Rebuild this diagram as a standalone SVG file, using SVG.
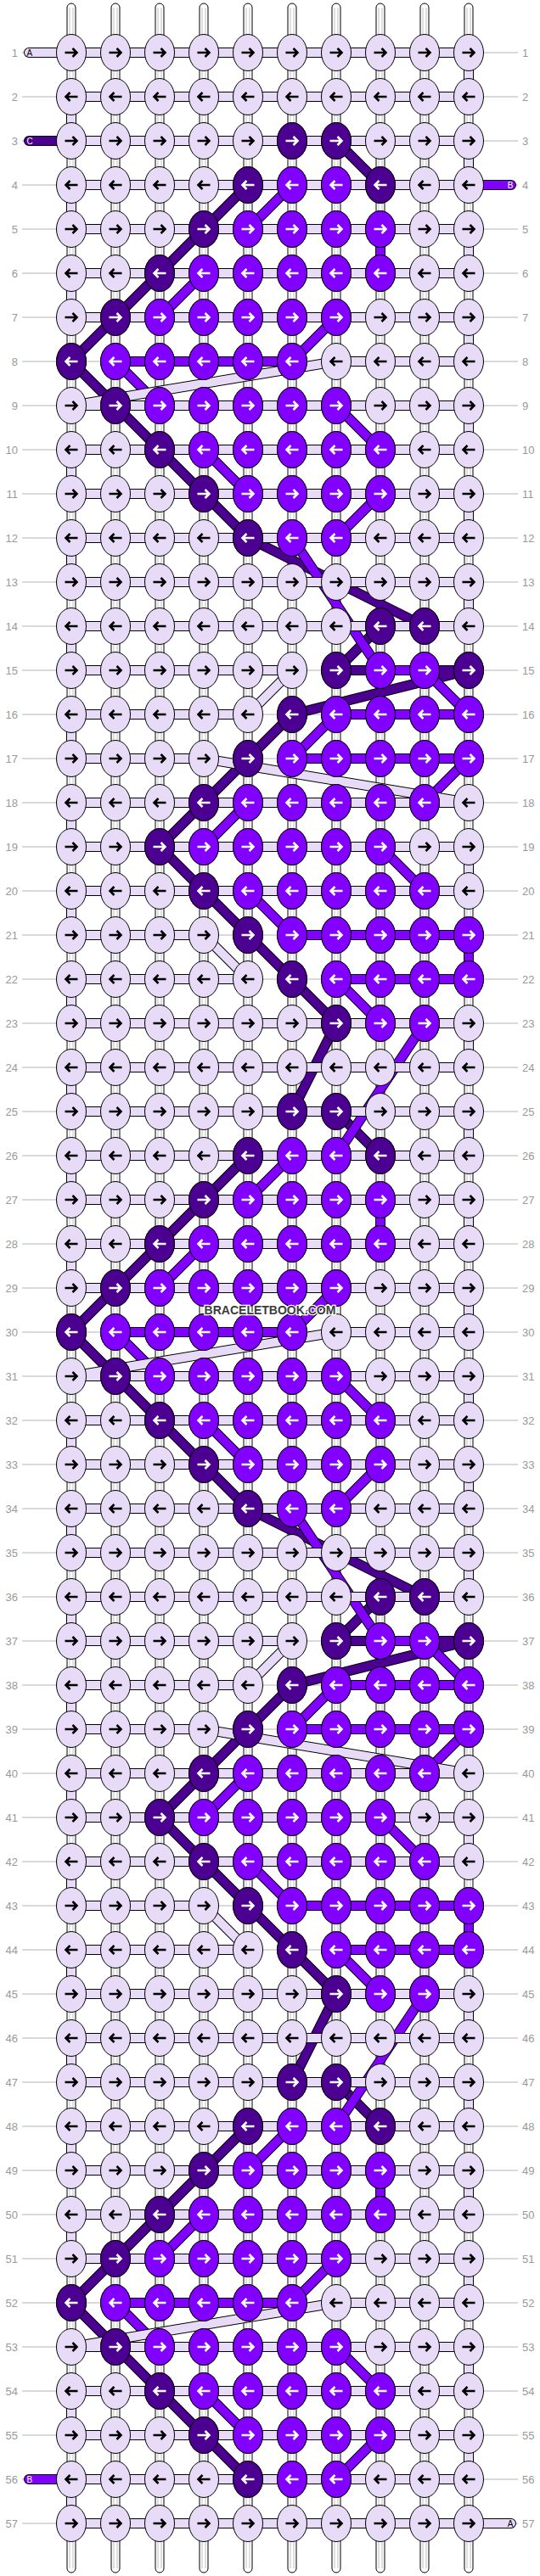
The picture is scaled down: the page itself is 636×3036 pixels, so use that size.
<svg xmlns="http://www.w3.org/2000/svg" width="636" height="3036" viewBox="0 0 636 3036">
<style>
.bs{fill:#fff;stroke:#000;stroke-width:1}
.bi{stroke:#b0b0b0;stroke-width:0.8}
.gl{fill:none;stroke:#b4b4b4;stroke-width:1}
.lb{font-family:"Liberation Sans",Arial,sans-serif;font-size:13px;fill:#999}
.ll{text-anchor:end}
.so{fill:none;stroke:#000;stroke-width:12px;stroke-linejoin:round;stroke-linecap:round;vector-effect:non-scaling-stroke}
.sc{fill:none;stroke-width:10px;stroke-linejoin:round;stroke-linecap:round;vector-effect:non-scaling-stroke}
.kL{fill:#E8DBF8;stroke:#000;stroke-width:1}
.kD{fill:#4B0091;stroke:#000;stroke-width:1}
.kV{fill:#8200FF;stroke:#000;stroke-width:1}
.ab{fill:none;stroke:#000;stroke-width:2.6}
.aw{fill:none;stroke:#fff;stroke-width:2.6}
.st{font-family:"Liberation Sans",Arial,sans-serif;font-size:10px}
</style>
<defs>
<path id="ar" d="M-7.5,0H6M1.5,-5L6.5,0L1.5,5"/>
<path id="al" d="M7.5,0H-6M-1.5,-5L-6.5,0L-1.5,5"/>
<g id="LR"><ellipse class="kL" rx="17.5" ry="21.5"/><use href="#ar" class="ab"/></g>
<g id="LL"><ellipse class="kL" rx="17.5" ry="21.5"/><use href="#al" class="ab"/></g>
<g id="DR"><ellipse class="kD" rx="17.5" ry="21.5"/><use href="#ar" class="aw"/></g>
<g id="DL"><ellipse class="kD" rx="17.5" ry="21.5"/><use href="#al" class="aw"/></g>
<g id="VR"><ellipse class="kV" rx="17.5" ry="21.5"/><use href="#ar" class="aw"/></g>
<g id="VL"><ellipse class="kV" rx="17.5" ry="21.5"/><use href="#al" class="aw"/></g>
<g id="rowR"><use href="#LR" x="84"/><use href="#LR" x="136"/><use href="#LR" x="188"/><use href="#LR" x="240"/><use href="#LR" x="292"/><use href="#LR" x="344"/><use href="#LR" x="396"/><use href="#LR" x="448"/><use href="#LR" x="500"/><use href="#LR" x="552"/></g>
<g id="rowL"><use href="#LL" x="84"/><use href="#LL" x="136"/><use href="#LL" x="188"/><use href="#LL" x="240"/><use href="#LL" x="292"/><use href="#LL" x="344"/><use href="#LL" x="396"/><use href="#LL" x="448"/><use href="#LL" x="500"/><use href="#LL" x="552"/></g>
<g id="o3"><use href="#DR" x="344"/><use href="#DR" x="396"/></g>
<g id="o4"><use href="#DL" x="292"/><use href="#VL" x="344"/><use href="#VL" x="396"/><use href="#DL" x="448"/></g>
<g id="o5"><use href="#DR" x="240"/><use href="#VR" x="292"/><use href="#VR" x="344"/><use href="#VR" x="396"/><use href="#VR" x="448"/></g>
<g id="o6"><use href="#DL" x="188"/><use href="#VL" x="240"/><use href="#VL" x="292"/><use href="#VL" x="344"/><use href="#VL" x="396"/><use href="#VL" x="448"/></g>
<g id="o7"><use href="#DR" x="136"/><use href="#VR" x="188"/><use href="#VR" x="240"/><use href="#VR" x="292"/><use href="#VR" x="344"/><use href="#VR" x="396"/></g>
<g id="o8"><use href="#DL" x="84"/><use href="#VL" x="136"/><use href="#VL" x="188"/><use href="#VL" x="240"/><use href="#VL" x="292"/><use href="#VL" x="344"/></g>
<g id="o12"><use href="#DL" x="292"/><use href="#VL" x="344"/><use href="#VL" x="396"/></g>
<g id="o14"><use href="#DL" x="448"/><use href="#DL" x="500"/></g>
<g id="o15"><use href="#DR" x="396"/><use href="#VR" x="448"/><use href="#VR" x="500"/><use href="#DR" x="552"/></g>
<g id="o16"><use href="#DL" x="344"/><use href="#VL" x="396"/><use href="#VL" x="448"/><use href="#VL" x="500"/><use href="#VL" x="552"/></g>
<g id="o17"><use href="#DR" x="292"/><use href="#VR" x="344"/><use href="#VR" x="396"/><use href="#VR" x="448"/><use href="#VR" x="500"/><use href="#VR" x="552"/></g>
<g id="o18"><use href="#DL" x="240"/><use href="#VL" x="292"/><use href="#VL" x="344"/><use href="#VL" x="396"/><use href="#VL" x="448"/><use href="#VL" x="500"/></g>
<g id="o19"><use href="#DR" x="188"/><use href="#VR" x="240"/><use href="#VR" x="292"/><use href="#VR" x="344"/><use href="#VR" x="396"/><use href="#VR" x="448"/></g>
<g id="o23"><use href="#DR" x="396"/><use href="#VR" x="448"/><use href="#VR" x="500"/></g>
</defs>
<rect width="636" height="3036" fill="#fff"/>
<g id="row-guides">
<path class="gl" d="M26,62H610M26,114H610M26,166H610M26,218H610M26,270H610M26,322H610M26,374H610M26,426H610M26,478H610M26,530H610M26,582H610M26,634H610M26,686H610M26,738H610M26,790H610M26,842H610M26,894H610M26,946H610M26,998H610M26,1050H610M26,1102H610M26,1154H610M26,1206H610M26,1258H610M26,1310H610M26,1362H610M26,1414H610M26,1466H610M26,1518H610M26,1570H610M26,1622H610M26,1674H610M26,1726H610M26,1778H610M26,1830H610M26,1882H610M26,1934H610M26,1986H610M26,2038H610M26,2090H610M26,2142H610M26,2194H610M26,2246H610M26,2298H610M26,2350H610M26,2402H610M26,2454H610M26,2506H610M26,2558H610M26,2610H610M26,2662H610M26,2714H610M26,2766H610M26,2818H610M26,2870H610M26,2922H610M26,2974H610"/>
</g>
<g id="base-strings">
<rect class="bs" x="79" y="4" width="10" height="3028" rx="5"/>
<rect class="bs" x="131" y="4" width="10" height="3028" rx="5"/>
<rect class="bs" x="183" y="4" width="10" height="3028" rx="5"/>
<rect class="bs" x="235" y="4" width="10" height="3028" rx="5"/>
<rect class="bs" x="287" y="4" width="10" height="3028" rx="5"/>
<rect class="bs" x="339" y="4" width="10" height="3028" rx="5"/>
<rect class="bs" x="391" y="4" width="10" height="3028" rx="5"/>
<rect class="bs" x="443" y="4" width="10" height="3028" rx="5"/>
<rect class="bs" x="495" y="4" width="10" height="3028" rx="5"/>
<rect class="bs" x="547" y="4" width="10" height="3028" rx="5"/>
<path class="bi" d="M82,9V3027M86,9V3027M134,9V3027M138,9V3027M186,9V3027M190,9V3027M238,9V3027M242,9V3027M290,9V3027M294,9V3027M342,9V3027M346,9V3027M394,9V3027M398,9V3027M446,9V3027M450,9V3027M498,9V3027M502,9V3027M550,9V3027M554,9V3027"/>
</g>
<g id="connectors" transform="translate(32,10) scale(52)">
<g id="string-C">
<polyline class="so" points="0.0385,3 7,3 8,4 5,4 4,5 3,6 2,7 1,8 2,9 3,10 4,11 5,12 9,14 8,14 7,15 10,15 6,16 5,17 4,18 3,19 4,20 5,21 6,22 7,23 6,25 7,25 8,26 5,26 4,27 3,28 2,29 1,30 2,31 3,32 4,33 5,34 9,36 8,36 7,37 10,37 6,38 5,39 4,40 3,41 4,42 5,43 6,44 7,45 6,47 7,47 8,48 5,48 4,49 3,50 2,51 1,52 2,53 3,54 4,55 5,56"/>
<polyline class="sc" stroke="#4B0091" points="0.0385,3 7,3 8,4 5,4 4,5 3,6 2,7 1,8 2,9 3,10 4,11 5,12 9,14 8,14 7,15 10,15 6,16 5,17 4,18 3,19 4,20 5,21 6,22 7,23 6,25 7,25 8,26 5,26 4,27 3,28 2,29 1,30 2,31 3,32 4,33 5,34 9,36 8,36 7,37 10,37 6,38 5,39 4,40 3,41 4,42 5,43 6,44 7,45 6,47 7,47 8,48 5,48 4,49 3,50 2,51 1,52 2,53 3,54 4,55 5,56"/>
</g>
<g id="string-B">
<polyline class="so" points="10.9615,4 7,4 6,4 5,5 8,5 8,6 4,6 3,7 7,7 6,8 2,8 3,9 7,9 8,10 4,10 5,11 8,11 7,12 6,12 8,15 9,15 10,16 7,16 6,17 10,17 9,18 5,18 4,19 8,19 9,20 5,20 6,21 10,21 10,22 7,22 8,23 9,23 7,26 6,26 5,27 8,27 8,28 4,28 3,29 7,29 6,30 2,30 3,31 7,31 8,32 4,32 5,33 8,33 7,34 6,34 8,37 9,37 10,38 7,38 6,39 10,39 9,40 5,40 4,41 8,41 9,42 5,42 6,43 10,43 10,44 7,44 8,45 9,45 7,48 6,48 5,49 8,49 8,50 4,50 3,51 7,51 6,52 2,52 3,53 7,53 8,54 4,54 5,55 8,55 7,56 6,56 0.0385,56"/>
<polyline class="sc" stroke="#8200FF" points="10.9615,4 7,4 6,4 5,5 8,5 8,6 4,6 3,7 7,7 6,8 2,8 3,9 7,9 8,10 4,10 5,11 8,11 7,12 6,12 8,15 9,15 10,16 7,16 6,17 10,17 9,18 5,18 4,19 8,19 9,20 5,20 6,21 10,21 10,22 7,22 8,23 9,23 7,26 6,26 5,27 8,27 8,28 4,28 3,29 7,29 6,30 2,30 3,31 7,31 8,32 4,32 5,33 8,33 7,34 6,34 8,37 9,37 10,38 7,38 6,39 10,39 9,40 5,40 4,41 8,41 9,42 5,42 6,43 10,43 10,44 7,44 8,45 9,45 7,48 6,48 5,49 8,49 8,50 4,50 3,51 7,51 6,52 2,52 3,53 7,53 8,54 4,54 5,55 8,55 7,56 6,56 0.0385,56"/>
</g>
<g id="string-A">
<polyline class="so" points="0.0385,1 10,1 10,2 1,2 1,3 10,3 10,4 1,4 1,5 10,5 10,6 1,6 1,7 10,7 10,8 7,8 1,9 10,9 10,10 1,10 1,11 10,11 10,12 1,12 1,13 10,13 10,14 1,14 1,15 6,15 5,16 1,16 1,17 4,17 10,18 1,18 1,19 10,19 10,20 1,20 1,21 4,21 5,22 1,22 1,23 10,23 10,24 1,24 1,25 10,25 10,26 1,26 1,27 10,27 10,28 1,28 1,29 10,29 10,30 7,30 1,31 10,31 10,32 1,32 1,33 10,33 10,34 1,34 1,35 10,35 10,36 1,36 1,37 6,37 5,38 1,38 1,39 4,39 10,40 1,40 1,41 10,41 10,42 1,42 1,43 4,43 5,44 1,44 1,45 10,45 10,46 1,46 1,47 10,47 10,48 1,48 1,49 10,49 10,50 1,50 1,51 10,51 10,52 7,52 1,53 10,53 10,54 1,54 1,55 10,55 10,56 1,56 1,57 10.9615,57"/>
<polyline class="sc" stroke="#E8DBF8" points="0.0385,1 10,1 10,2 1,2 1,3 10,3 10,4 1,4 1,5 10,5 10,6 1,6 1,7 10,7 10,8 7,8 1,9 10,9 10,10 1,10 1,11 10,11 10,12 1,12 1,13 10,13 10,14 1,14 1,15 6,15 5,16 1,16 1,17 4,17 10,18 1,18 1,19 10,19 10,20 1,20 1,21 4,21 5,22 1,22 1,23 10,23 10,24 1,24 1,25 10,25 10,26 1,26 1,27 10,27 10,28 1,28 1,29 10,29 10,30 7,30 1,31 10,31 10,32 1,32 1,33 10,33 10,34 1,34 1,35 10,35 10,36 1,36 1,37 6,37 5,38 1,38 1,39 4,39 10,40 1,40 1,41 10,41 10,42 1,42 1,43 4,43 5,44 1,44 1,45 10,45 10,46 1,46 1,47 10,47 10,48 1,48 1,49 10,49 10,50 1,50 1,51 10,51 10,52 7,52 1,53 10,53 10,54 1,54 1,55 10,55 10,56 1,56 1,57 10.9615,57"/>
</g>
</g>
<g id="string-labels" class="st">
<text x="31.5" y="65.5" fill="#000">A</text>
<text x="31.5" y="169.5" fill="#fff">C</text>
<text x="604.5" y="221.5" fill="#fff" text-anchor="end">B</text>
<text x="31.5" y="2925.5" fill="#fff">B</text>
<text x="604.5" y="2977.5" fill="#000" text-anchor="end">A</text>
</g>
<g id="knots">
<g id="row-1" transform="translate(0,62)"><use href="#rowR"/></g>
<g id="row-2" transform="translate(0,114)"><use href="#rowL"/></g>
<g id="row-3" transform="translate(0,166)"><use href="#rowR"/><use href="#o3"/></g>
<g id="row-4" transform="translate(0,218)"><use href="#rowL"/><use href="#o4"/></g>
<g id="row-5" transform="translate(0,270)"><use href="#rowR"/><use href="#o5"/></g>
<g id="row-6" transform="translate(0,322)"><use href="#rowL"/><use href="#o6"/></g>
<g id="row-7" transform="translate(0,374)"><use href="#rowR"/><use href="#o7"/></g>
<g id="row-8" transform="translate(0,426)"><use href="#rowL"/><use href="#o8"/></g>
<g id="row-9" transform="translate(0,478)"><use href="#rowR"/><use href="#o7"/></g>
<g id="row-10" transform="translate(0,530)"><use href="#rowL"/><use href="#o6"/></g>
<g id="row-11" transform="translate(0,582)"><use href="#rowR"/><use href="#o5"/></g>
<g id="row-12" transform="translate(0,634)"><use href="#rowL"/><use href="#o12"/></g>
<g id="row-13" transform="translate(0,686)"><use href="#rowR"/></g>
<g id="row-14" transform="translate(0,738)"><use href="#rowL"/><use href="#o14"/></g>
<g id="row-15" transform="translate(0,790)"><use href="#rowR"/><use href="#o15"/></g>
<g id="row-16" transform="translate(0,842)"><use href="#rowL"/><use href="#o16"/></g>
<g id="row-17" transform="translate(0,894)"><use href="#rowR"/><use href="#o17"/></g>
<g id="row-18" transform="translate(0,946)"><use href="#rowL"/><use href="#o18"/></g>
<g id="row-19" transform="translate(0,998)"><use href="#rowR"/><use href="#o19"/></g>
<g id="row-20" transform="translate(0,1050)"><use href="#rowL"/><use href="#o18"/></g>
<g id="row-21" transform="translate(0,1102)"><use href="#rowR"/><use href="#o17"/></g>
<g id="row-22" transform="translate(0,1154)"><use href="#rowL"/><use href="#o16"/></g>
<g id="row-23" transform="translate(0,1206)"><use href="#rowR"/><use href="#o23"/></g>
<g id="row-24" transform="translate(0,1258)"><use href="#rowL"/></g>
<g id="row-25" transform="translate(0,1310)"><use href="#rowR"/><use href="#o3"/></g>
<g id="row-26" transform="translate(0,1362)"><use href="#rowL"/><use href="#o4"/></g>
<g id="row-27" transform="translate(0,1414)"><use href="#rowR"/><use href="#o5"/></g>
<g id="row-28" transform="translate(0,1466)"><use href="#rowL"/><use href="#o6"/></g>
<g id="row-29" transform="translate(0,1518)"><use href="#rowR"/><use href="#o7"/></g>
<g id="row-30" transform="translate(0,1570)"><use href="#rowL"/><use href="#o8"/></g>
<g id="row-31" transform="translate(0,1622)"><use href="#rowR"/><use href="#o7"/></g>
<g id="row-32" transform="translate(0,1674)"><use href="#rowL"/><use href="#o6"/></g>
<g id="row-33" transform="translate(0,1726)"><use href="#rowR"/><use href="#o5"/></g>
<g id="row-34" transform="translate(0,1778)"><use href="#rowL"/><use href="#o12"/></g>
<g id="row-35" transform="translate(0,1830)"><use href="#rowR"/></g>
<g id="row-36" transform="translate(0,1882)"><use href="#rowL"/><use href="#o14"/></g>
<g id="row-37" transform="translate(0,1934)"><use href="#rowR"/><use href="#o15"/></g>
<g id="row-38" transform="translate(0,1986)"><use href="#rowL"/><use href="#o16"/></g>
<g id="row-39" transform="translate(0,2038)"><use href="#rowR"/><use href="#o17"/></g>
<g id="row-40" transform="translate(0,2090)"><use href="#rowL"/><use href="#o18"/></g>
<g id="row-41" transform="translate(0,2142)"><use href="#rowR"/><use href="#o19"/></g>
<g id="row-42" transform="translate(0,2194)"><use href="#rowL"/><use href="#o18"/></g>
<g id="row-43" transform="translate(0,2246)"><use href="#rowR"/><use href="#o17"/></g>
<g id="row-44" transform="translate(0,2298)"><use href="#rowL"/><use href="#o16"/></g>
<g id="row-45" transform="translate(0,2350)"><use href="#rowR"/><use href="#o23"/></g>
<g id="row-46" transform="translate(0,2402)"><use href="#rowL"/></g>
<g id="row-47" transform="translate(0,2454)"><use href="#rowR"/><use href="#o3"/></g>
<g id="row-48" transform="translate(0,2506)"><use href="#rowL"/><use href="#o4"/></g>
<g id="row-49" transform="translate(0,2558)"><use href="#rowR"/><use href="#o5"/></g>
<g id="row-50" transform="translate(0,2610)"><use href="#rowL"/><use href="#o6"/></g>
<g id="row-51" transform="translate(0,2662)"><use href="#rowR"/><use href="#o7"/></g>
<g id="row-52" transform="translate(0,2714)"><use href="#rowL"/><use href="#o8"/></g>
<g id="row-53" transform="translate(0,2766)"><use href="#rowR"/><use href="#o7"/></g>
<g id="row-54" transform="translate(0,2818)"><use href="#rowL"/><use href="#o6"/></g>
<g id="row-55" transform="translate(0,2870)"><use href="#rowR"/><use href="#o5"/></g>
<g id="row-56" transform="translate(0,2922)"><use href="#rowL"/><use href="#o12"/></g>
<g id="row-57" transform="translate(0,2974)"><use href="#rowR"/></g>
</g>
<g id="row-numbers" class="lb">
<text class="ll" x="21" y="67">1</text><text x="615" y="67">1</text>
<text class="ll" x="21" y="119">2</text><text x="615" y="119">2</text>
<text class="ll" x="21" y="171">3</text><text x="615" y="171">3</text>
<text class="ll" x="21" y="223">4</text><text x="615" y="223">4</text>
<text class="ll" x="21" y="275">5</text><text x="615" y="275">5</text>
<text class="ll" x="21" y="327">6</text><text x="615" y="327">6</text>
<text class="ll" x="21" y="379">7</text><text x="615" y="379">7</text>
<text class="ll" x="21" y="431">8</text><text x="615" y="431">8</text>
<text class="ll" x="21" y="483">9</text><text x="615" y="483">9</text>
<text class="ll" x="21" y="535">10</text><text x="615" y="535">10</text>
<text class="ll" x="21" y="587">11</text><text x="615" y="587">11</text>
<text class="ll" x="21" y="639">12</text><text x="615" y="639">12</text>
<text class="ll" x="21" y="691">13</text><text x="615" y="691">13</text>
<text class="ll" x="21" y="743">14</text><text x="615" y="743">14</text>
<text class="ll" x="21" y="795">15</text><text x="615" y="795">15</text>
<text class="ll" x="21" y="847">16</text><text x="615" y="847">16</text>
<text class="ll" x="21" y="899">17</text><text x="615" y="899">17</text>
<text class="ll" x="21" y="951">18</text><text x="615" y="951">18</text>
<text class="ll" x="21" y="1003">19</text><text x="615" y="1003">19</text>
<text class="ll" x="21" y="1055">20</text><text x="615" y="1055">20</text>
<text class="ll" x="21" y="1107">21</text><text x="615" y="1107">21</text>
<text class="ll" x="21" y="1159">22</text><text x="615" y="1159">22</text>
<text class="ll" x="21" y="1211">23</text><text x="615" y="1211">23</text>
<text class="ll" x="21" y="1263">24</text><text x="615" y="1263">24</text>
<text class="ll" x="21" y="1315">25</text><text x="615" y="1315">25</text>
<text class="ll" x="21" y="1367">26</text><text x="615" y="1367">26</text>
<text class="ll" x="21" y="1419">27</text><text x="615" y="1419">27</text>
<text class="ll" x="21" y="1471">28</text><text x="615" y="1471">28</text>
<text class="ll" x="21" y="1523">29</text><text x="615" y="1523">29</text>
<text class="ll" x="21" y="1575">30</text><text x="615" y="1575">30</text>
<text class="ll" x="21" y="1627">31</text><text x="615" y="1627">31</text>
<text class="ll" x="21" y="1679">32</text><text x="615" y="1679">32</text>
<text class="ll" x="21" y="1731">33</text><text x="615" y="1731">33</text>
<text class="ll" x="21" y="1783">34</text><text x="615" y="1783">34</text>
<text class="ll" x="21" y="1835">35</text><text x="615" y="1835">35</text>
<text class="ll" x="21" y="1887">36</text><text x="615" y="1887">36</text>
<text class="ll" x="21" y="1939">37</text><text x="615" y="1939">37</text>
<text class="ll" x="21" y="1991">38</text><text x="615" y="1991">38</text>
<text class="ll" x="21" y="2043">39</text><text x="615" y="2043">39</text>
<text class="ll" x="21" y="2095">40</text><text x="615" y="2095">40</text>
<text class="ll" x="21" y="2147">41</text><text x="615" y="2147">41</text>
<text class="ll" x="21" y="2199">42</text><text x="615" y="2199">42</text>
<text class="ll" x="21" y="2251">43</text><text x="615" y="2251">43</text>
<text class="ll" x="21" y="2303">44</text><text x="615" y="2303">44</text>
<text class="ll" x="21" y="2355">45</text><text x="615" y="2355">45</text>
<text class="ll" x="21" y="2407">46</text><text x="615" y="2407">46</text>
<text class="ll" x="21" y="2459">47</text><text x="615" y="2459">47</text>
<text class="ll" x="21" y="2511">48</text><text x="615" y="2511">48</text>
<text class="ll" x="21" y="2563">49</text><text x="615" y="2563">49</text>
<text class="ll" x="21" y="2615">50</text><text x="615" y="2615">50</text>
<text class="ll" x="21" y="2667">51</text><text x="615" y="2667">51</text>
<text class="ll" x="21" y="2719">52</text><text x="615" y="2719">52</text>
<text class="ll" x="21" y="2771">53</text><text x="615" y="2771">53</text>
<text class="ll" x="21" y="2823">54</text><text x="615" y="2823">54</text>
<text class="ll" x="21" y="2875">55</text><text x="615" y="2875">55</text>
<text class="ll" x="21" y="2927">56</text><text x="615" y="2927">56</text>
<text class="ll" x="21" y="2979">57</text><text x="615" y="2979">57</text>
</g>
<text id="watermark" x="318" y="1549" text-anchor="middle" font-family="'Liberation Sans',Arial,sans-serif" font-weight="bold" font-size="14" fill="#3c3c3c" stroke="#fff" stroke-width="2.5" paint-order="stroke">BRACELETBOOK.COM</text>
</svg>
